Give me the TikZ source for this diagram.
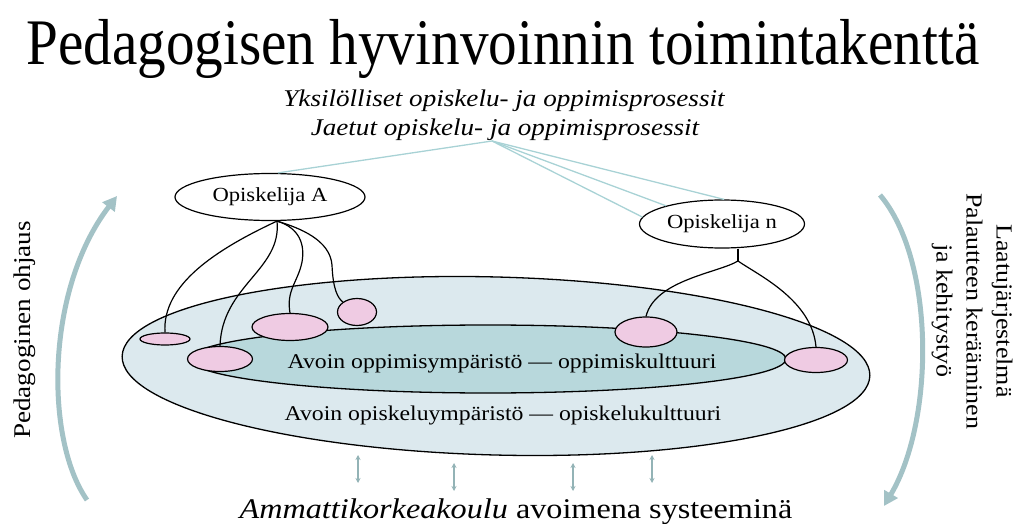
\documentclass[tikz,border=0pt]{standalone}
\usepackage{fontspec}
\setmainfont{Liberation Serif}
\newfontfamily\widefont[FakeStretch=1.13]{Liberation Serif}
\newfontfamily\titlefont[FakeStretch=0.88]{Liberation Serif}
\usetikzlibrary{arrows.meta,shapes.geometric}
\definecolor{ulkoc}{HTML}{DCE9EE}
\definecolor{sisac}{HTML}{B8D8DC}
\definecolor{pinkc}{HTML}{EFCBE3}
\definecolor{nuolic}{HTML}{A3C2C6}
\definecolor{ohutc}{HTML}{A8D2D5}
\definecolor{pikkuc}{HTML}{93B3B6}
\begin{document}
\begin{tikzpicture}[x=1pt,y=-1pt,
    pinkki/.style={ellipse,draw,fill=pinkc,line width=1.2pt,inner sep=0pt},
    opiskelija/.style={ellipse,draw,fill=white,line width=1.2pt,inner sep=0pt,
      font=\widefont\fontsize{20}{24}\selectfont},
    liitos/.style={line width=1.2pt},
    ohutviiva/.style={ohutc,line width=1.3pt},
    kaari/.style={nuolic,line width=5pt,-{Triangle[length=14pt,width=15pt]}},
    pikku/.style={pikkuc,line width=2pt,{Stealth[length=5pt,width=5pt]}-{Stealth[length=5pt,width=5pt]}}]
  \useasboundingbox (0,0) rectangle (1021,524);
  % Otsikko ja prosessit
  \node[anchor=base,font=\titlefont\fontsize{65}{70}\selectfont] (otsikko) at (503,65) {Pedagogisen hyvinvoinnin toimintakenttä};
  \node[anchor=base,font=\widefont\itshape\fontsize{24}{28}\selectfont] (yks) at (504,107) {Yksilölliset opiskelu- ja oppimisprosessit};
  \node[anchor=base,font=\widefont\itshape\fontsize{24}{28}\selectfont] (jaet) at (505,136) {Jaetut opiskelu- ja oppimisprosessit};
  % Ympäristöt
  \node[ellipse,draw,fill=ulkoc,line width=1.3pt,inner sep=0pt,minimum width=748pt,minimum height=178pt,rotate=-1.5] (ulko) at (496,366) {};
  \node[ellipse,draw,fill=sisac,line width=1.3pt,inner sep=0pt,minimum width=596pt,minimum height=68pt] (sisa) at (488,359) {};
  \node[anchor=base,font=\widefont\fontsize{21}{24}\selectfont] (sisateksti) at (502,368) {Avoin oppimisympäristö \textemdash\ oppimiskulttuuri};
  \node[anchor=base,font=\widefont\fontsize{21}{24}\selectfont] (ulkoteksti) at (503,420) {Avoin opiskeluympäristö \textemdash\ opiskelukulttuuri};
  % Opiskelijat
  \node[pinkki,minimum width=50pt,minimum height=12pt] (pa1) at (165,339) {};
  \node[pinkki,minimum width=65pt,minimum height=25pt] (pa2) at (220,359) {};
  \node[pinkki,minimum width=76pt,minimum height=27pt] (pa3) at (290,327) {};
  \node[pinkki,minimum width=39pt,minimum height=27pt] (pa4) at (357,312) {};
  \node[pinkki,minimum width=62pt,minimum height=30pt] (pn1) at (646,332) {};
  \node[pinkki,minimum width=63pt,minimum height=25pt] (pn2) at (816,360) {};
  \node[opiskelija,minimum width=190pt,minimum height=47pt] (oppA) at (270,197) {Opiskelija A};
  \node[opiskelija,minimum width=165pt,minimum height=48pt] (oppN) at (722,224) {Opiskelija n};
  \coordinate (Ajako) at ([xshift=7pt]oppA.south);
  \draw[liitos] (Ajako) .. controls (215,250) and (162,285) .. (pa1.north);
  \draw[liitos] (Ajako) .. controls (282,270) and (222,285) .. (pa2.north);
  \draw[liitos] (Ajako) .. controls (300,228) and (305,245) .. (302,262) .. controls (298,282) and (286,290) .. (pa3.north);
  \draw[liitos] (Ajako) .. controls (300,228) and (330,240) .. (332,265) .. controls (333,290) and (338,298) .. (pa4.north west);
  \coordinate (Nhaara) at (738,261);
  \draw[liitos] ([xshift=16pt]oppN.south) -- (Nhaara);
  \draw[liitos] (Nhaara) .. controls (718,273) and (655,280) .. (pn1.north);
  \draw[liitos] (Nhaara) .. controls (758,275) and (812,300) .. (pn2.north);
  % Jaetut prosessit
  \coordinate (hub) at (492,141);
  \draw[ohutviiva] (hub) -- ([xshift=8pt]oppA.north);
  \draw[ohutviiva] (hub) -- (oppN.175);
  \draw[ohutviiva] (hub) -- (oppN.162);
  \draw[ohutviiva] (hub) -- (oppN.85);
  % Sivut
  \coordinate (vasA) at (87,500);
  \coordinate (vasY) at (117,196);
  \draw[kaari] (vasA) .. controls (45,440) and (45,290) .. (vasY);
  \coordinate (oikY) at (880,195);
  \coordinate (oikA) at (884,506);
  \draw[kaari] (oikY) .. controls (935,260) and (935,420) .. (oikA);
  \node[rotate=90,font=\widefont\fontsize{24}{28}\selectfont] (ped) at (25,330) {Pedagoginen ohjaus};
  \node[rotate=-90,align=center,font=\widefont\fontsize{23}{30}\selectfont] (laatu) at (972,311) {Laatujärjestelmä\\Palautteen kerääminen\\ja kehitystyö};
  % Ammattikorkeakoulu
  \foreach \x/\y [count=\i] in {358/455,454/463,573/463,652/455}{
    \coordinate (ay\i) at (\x,\y);
    \coordinate (aa\i) at (\x,\y+28);
    \draw[pikku] (ay\i) -- (aa\i);
  }
  \node[anchor=base,font=\widefont\fontsize{28.5}{32}\selectfont] (amk) at (516,518) {\textit{Ammattikorkeakoulu} avoimena systeeminä};
\end{tikzpicture}
\end{document}
